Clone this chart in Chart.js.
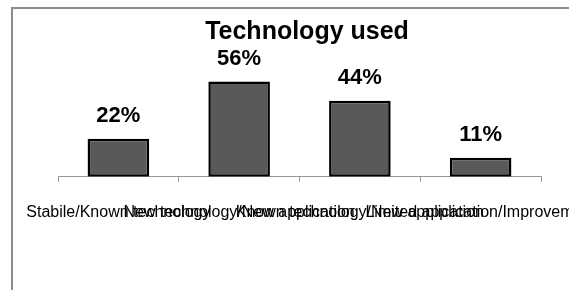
<!DOCTYPE html>
<html>
<head>
<meta charset="utf-8">
<script src="https://cdn.jsdelivr.net/npm/chart.js@4/dist/chart.umd.min.js"></script>
<style>
  html, body { margin: 0; padding: 0; background: #fff; overflow: hidden; }
  #caja { position: relative; width: 569px; height: 290px; overflow: hidden; }
  #lineaIzq { position: absolute; left: 11px; top: 7px; width: 2px; height: 290px; background: #8c8c8c; }
  #lineaSup { position: absolute; left: 11px; top: 7px; width: 600px; height: 2px; background: #8c8c8c; }
  #myChart { position: absolute; left: -40px; top: 0; }
</style>
</head>
<body>
<div id="caja">
<div id="lineaIzq"></div>
<div id="lineaSup"></div>
<canvas id="myChart" width="720" height="290"></canvas>
</div>
<script>
var categorias = [
    'Stabile/Known technology',
    'New technology/New application',
    'Known technology/New application',
    'Limited application/Improvement'
];
var porcentajes = [22.2, 55.6, 44.4, 11.1];
var titulo = 'Technology used';

// etiquetas encima de cada barra
const etiquetasBarras = {
    id: 'etiquetasBarras',
    afterDatasetsDraw(chart) {
        const ctx = chart.ctx;
        const meta = chart.getDatasetMeta(0);
        ctx.save();
        ctx.font = 'bold 22px "Liberation Sans", Arial, sans-serif';
        ctx.fillStyle = '#000';
        ctx.textAlign = 'center';
        ctx.textBaseline = 'middle';
        meta.data.forEach(function (barra, i) {
            ctx.fillText(Math.round(porcentajes[i]) + '%', barra.x, barra.y - 23);
        });
        ctx.restore();
    }
};

const data = {
    labels: categorias,
    datasets: [{
        label: titulo,
        data: porcentajes,
        backgroundColor: '#595959',
        borderColor: '#000',
        borderWidth: 2.5,
        borderSkipped: false,
        barPercentage: 0.51,
        categoryPercentage: 1
    }]
};

const config = {
    type: 'bar',
    data: data,
    options: {
        responsive: false,
        animation: false,
        devicePixelRatio: 1,
        layout: {
            padding: { left: 98, right: 124, top: 0, bottom: 47 }
        },
        plugins: {
            legend: { display: false },
            tooltip: { enabled: false },
            title: {
                display: true,
                text: titulo,
                color: '#000',
                font: { family: '"Liberation Sans", Arial, sans-serif', size: 25, weight: 'bold', lineHeight: 1.2 },
                padding: { top: 17, bottom: 27 }
            }
        },
        scales: {
            x: {
                grid: {
                    display: true,
                    drawOnChartArea: false,
                    drawTicks: true,
                    tickLength: 5,
                    color: '#999',
                    offset: true
                },
                border: { display: true, color: '#999', width: 1 },
                ticks: {
                    autoSkip: false,
                    maxRotation: 0,
                    minRotation: 0,
                    padding: 21,
                    color: '#000',
                    font: { family: '"Liberation Sans", Arial, sans-serif', size: 16 }
                }
            },
            y: {
                position: 'right',
                min: 0,
                max: 60,
                grid: { display: false },
                border: { display: false },
                ticks: { display: false },
                afterFit: function (escala) { escala.width = 15; }
            }
        }
    },
    plugins: [etiquetasBarras]
};

const myChart = new Chart(document.getElementById('myChart'), config);
</script>
</body>
</html>
